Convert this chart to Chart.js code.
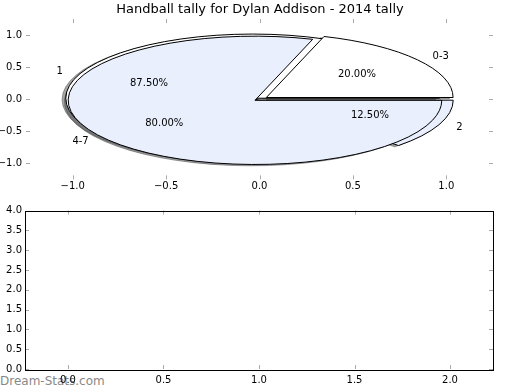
<!DOCTYPE html>
<html><head><meta charset="utf-8">
<script src="https://cdn.jsdelivr.net/npm/chart.js@4/dist/chart.umd.min.js"></script>
<style>
html,body{margin:0;padding:0;background:#fff;}
#wrap{position:relative;width:520px;height:390px;overflow:hidden;background:#fff;}
canvas{position:absolute;left:0;z-index:2;}
#c1{top:0;}
#c2{top:200px;}
#wm{position:absolute;left:0;top:374px;font:12px "DejaVu Sans";line-height:14px;color:#888;z-index:1;white-space:nowrap;}
</style>
</head><body>
<div id="wrap">
<div id="wm">Dream-Stats.com</div>
<canvas id="c1" width="520" height="200"></canvas>
<canvas id="c2" width="520" height="190"></canvas>
</div>
<script>
// ---- data ----
const chartTitle = 'Handball tally for Dylan Addison - 2014 tally';
const pieLabelsA = ['1', '2'];
const pieValuesA = [87.5, 12.5];
const pieLabelsB = ['0-3', '4-7'];
const pieValuesB = [20, 80];
const xTicksTop = [-1, -0.5, 0, 0.5, 1];
const yTicksTop = [-1, -0.5, 0, 0.5, 1];
const xTicksBottom = [0, 0.5, 1, 1.5, 2];
const yTicksBottom = [0, 0.5, 1, 1.5, 2, 2.5, 3, 3.5, 4];

// ---- styling ----
const FONT = 'DejaVu Sans';
const sliceColors = ['#ffffff', '#e9effc'];
const explodeA = [0.04, 0.04];
const explodeB = [0.045, 0.03];

function fmt(v){ return (v < 0 ? '\u2212' : '') + Math.abs(v).toFixed(1); }

function buildWedges(labels, values, explode){
  const tot = values.reduce((a,b)=>a+b,0);
  let a = 0;
  return values.map((v,i)=>{
    const t1 = a, t2 = a + v/tot*2*Math.PI; a = t2;
    const m = (t1+t2)/2, e = explode[i];
    return {t1, t2, m, cx: e*Math.cos(m), cy: e*Math.sin(m),
            color: sliceColors[i % sliceColors.length], label: labels[i],
            pct: (v/tot*100).toFixed(2) + '%'};
  });
}
const pies = [buildWedges(pieLabelsA, pieValuesA, explodeA), buildWedges(pieLabelsB, pieValuesB, explodeB)];

function wedgePath(ctx, xs, ys, w, ox, oy){
  const cx = xs.getPixelForValue(w.cx+ox), cy = ys.getPixelForValue(w.cy+oy);
  const rx = xs.getPixelForValue(1) - xs.getPixelForValue(0);
  const ry = ys.getPixelForValue(0) - ys.getPixelForValue(1);
  ctx.beginPath();
  ctx.moveTo(cx, cy);
  ctx.ellipse(cx, cy, rx, ry, 0, -w.t1, -w.t2, true);
  ctx.closePath();
}
function shade(hex){
  const r = parseInt(hex.slice(1,3),16)*0.3, g = parseInt(hex.slice(3,5),16)*0.3, b = parseInt(hex.slice(5,7),16)*0.3;
  return 'rgba(' + Math.round(r) + ',' + Math.round(g) + ',' + Math.round(b) + ',0.5)';
}

const piePlugin = {
  id: 'ellipsePies',
  afterDatasetsDraw(chart){
    const ctx = chart.ctx, xs = chart.scales.x, ys = chart.scales.y;
    ctx.save();
    ctx.lineWidth = 1;
    pies.forEach(p => p.forEach(w => {
      wedgePath(ctx, xs, ys, w, -0.02, -0.02);
      ctx.fillStyle = shade(w.color); ctx.fill();
      ctx.strokeStyle = shade(w.color); ctx.stroke();
    }));
    pies.forEach(p => p.forEach(w => {
      wedgePath(ctx, xs, ys, w, 0, 0);
      ctx.fillStyle = w.color; ctx.fill();
      ctx.strokeStyle = '#000'; ctx.stroke();
    }));
    ctx.fillStyle = '#000';
    ctx.font = '10px "' + FONT + '"';
    ctx.textBaseline = 'middle';
    pies.forEach(p => p.forEach(w => {
      const lx = w.cx + 1.1*Math.cos(w.m), ly = w.cy + 1.1*Math.sin(w.m);
      ctx.textAlign = lx > 0 ? 'left' : 'right';
      ctx.fillText(w.label, xs.getPixelForValue(lx), ys.getPixelForValue(ly));
      const px = w.cx + 0.6*Math.cos(w.m), py = w.cy + 0.6*Math.sin(w.m);
      ctx.textAlign = 'center';
      ctx.fillText(w.pct, xs.getPixelForValue(px), ys.getPixelForValue(py));
    }));
    ctx.restore();
  }
};

const innerTicks = {
  id: 'innerTicks',
  afterDraw(chart, args, opts){
    const ctx = chart.ctx, a = chart.chartArea, L = 4;
    ctx.save();
    ctx.strokeStyle = '#aaaaaa'; ctx.lineWidth = 1;
    ctx.beginPath();
    chart.scales.x.ticks.forEach(t => {
      const x = Math.round(chart.scales.x.getPixelForValue(t.value)) + 0.5;
      ctx.moveTo(x, a.bottom); ctx.lineTo(x, a.bottom - L);
      ctx.moveTo(x, a.top); ctx.lineTo(x, a.top + L);
    });
    chart.scales.y.ticks.forEach(t => {
      const y = Math.round(chart.scales.y.getPixelForValue(t.value)) + 0.5;
      ctx.moveTo(a.left, y); ctx.lineTo(a.left + L, y);
      ctx.moveTo(a.right, y); ctx.lineTo(a.right - L, y);
    });
    ctx.stroke();
    if (opts.frame){
      ctx.strokeStyle = '#000';
      ctx.strokeRect(Math.round(a.left)+0.5, Math.round(a.top)+0.5, Math.round(a.right-a.left), Math.round(a.bottom-a.top));
    }
    ctx.restore();
  }
};

const tickFont = {family: FONT, size: 10};
const hiddenRight = {
  position: 'right', type: 'linear', min: 0, max: 1,
  afterFit: s => { s.width = 27; },
  grid: {display: false, drawTicks: false}, border: {display: false},
  ticks: {display: false}
};

new Chart(document.getElementById('c1'), {
  type: 'scatter',
  data: {datasets: []},
  plugins: [piePlugin, innerTicks],
  options: {
    responsive: false, animation: false, devicePixelRatio: 1,
    layout: {padding: {left: 0, right: 0, top: 0, bottom: 0}},
    plugins: {
      legend: {display: false}, tooltip: {enabled: false},
      title: {display: true, text: chartTitle, color: '#000',
              font: {family: FONT, size: 13, weight: 'normal'}, padding: {top: 2, bottom: 1.4}},
      innerTicks: {frame: false}
    },
    scales: {
      x: {type: 'linear', min: -1.25, max: 1.25,
          afterBuildTicks: s => { s.ticks = xTicksTop.map(v => ({value: v})); },
          afterFit: s => { s.height = 20.6; },
          grid: {display: false, drawTicks: false}, border: {display: false},
          ticks: {callback: fmt, font: tickFont, color: '#000', padding: 1, maxRotation: 0, autoSkip: false}},
      y: {type: 'linear', min: -1.25, max: 1.25, position: 'left',
          afterBuildTicks: s => { s.ticks = yTicksTop.map(v => ({value: v})); },
          afterFit: s => { s.width = 26; },
          grid: {display: false, drawTicks: false}, border: {display: false},
          ticks: {callback: fmt, font: tickFont, color: '#000', padding: 4, autoSkip: false}},
      y2: hiddenRight
    }
  }
});

new Chart(document.getElementById('c2'), {
  type: 'scatter',
  data: {datasets: []},
  plugins: [innerTicks],
  options: {
    responsive: false, animation: false, devicePixelRatio: 1,
    layout: {padding: {left: 0, right: 0, top: 10.5, bottom: 0}},
    plugins: {legend: {display: false}, tooltip: {enabled: false}, innerTicks: {frame: true}},
    scales: {
      x: {type: 'linear', min: -0.225, max: 2.225,
          afterBuildTicks: s => { s.ticks = xTicksBottom.map(v => ({value: v})); },
          afterFit: s => { s.height = 21; },
          grid: {display: false, drawTicks: false}, border: {display: false},
          ticks: {callback: fmt, font: tickFont, color: '#000', padding: 5, maxRotation: 0, autoSkip: false}},
      y: {type: 'linear', min: 0, max: 4, position: 'left',
          afterBuildTicks: s => { s.ticks = yTicksBottom.map(v => ({value: v})); },
          afterFit: s => { s.width = 25; },
          grid: {display: false, drawTicks: false}, border: {display: false},
          ticks: {callback: fmt, font: tickFont, color: '#000', padding: 3, autoSkip: false}},
      y2: hiddenRight
    }
  }
});
</script>
</body></html>
